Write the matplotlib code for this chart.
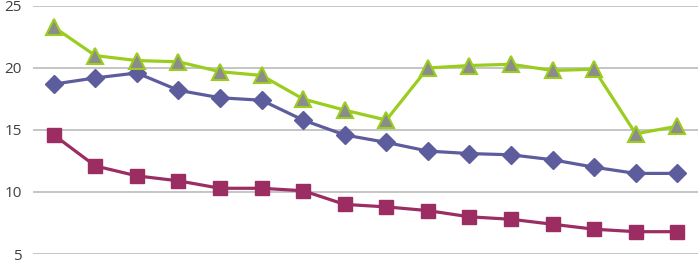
import matplotlib.pyplot as plt
import numpy as np

# values (16 categories, no x labels)
green_vals = [23.3, 21.0, 20.6, 20.5, 19.7, 19.4, 17.5, 16.6, 15.8, 20.0, 20.2, 20.3, 19.8, 19.9, 14.7, 15.3]
blue_vals = [18.7, 19.2, 19.6, 18.2, 17.6, 17.4, 15.8, 14.6, 14.0, 13.3, 13.1, 13.0, 12.6, 12.0, 11.5, 11.5]
red_vals = [14.6, 12.1, 11.3, 10.9, 10.3, 10.3, 10.1, 9.0, 8.8, 8.5, 8.0, 7.8, 7.4, 7.0, 6.8, 6.8]
y_ticks = [5, 10, 15, 20, 25]

x = np.arange(len(green_vals))

fig = plt.figure(figsize=(6.98, 2.6), dpi=100)
ax = fig.add_axes([33 / 698, 6 / 260, 1 - 33 / 698, 248 / 260])

ax.plot(x, blue_vals, color='#5D5D9E', lw=2.3, marker='D', ms=9,
        markerfacecolor='#5D5D9E', markeredgecolor='#5D5D9E', zorder=3)
ax.plot(x, red_vals, color='#9B2D63', lw=2.3, marker='s', ms=10,
        markerfacecolor='#9B2D63', markeredgecolor='#9B2D63', zorder=3)
ax.plot(x, green_vals, color='#9ACD1E', lw=2.3, marker='^', ms=11,
        markerfacecolor='#8C8C8C', markeredgecolor='#9ACD1E', markeredgewidth=1.5, zorder=3)

ax.set_xlim(-0.5, len(green_vals) - 0.5)
ax.set_ylim(5, 25)
ax.set_yticks(y_ticks)
ax.set_xticks([])
ax.grid(axis='y', color='#C0C0C0', lw=1.3)
ax.set_axisbelow(True)
for s in ax.spines.values():
    s.set_visible(False)
ax.tick_params(axis='y', length=0, pad=8, labelsize=11, labelcolor='#404040')
for lbl in ax.get_yticklabels():
    lbl.set_fontfamily('Open Sans')

fig.savefig('out.png', dpi=100)
